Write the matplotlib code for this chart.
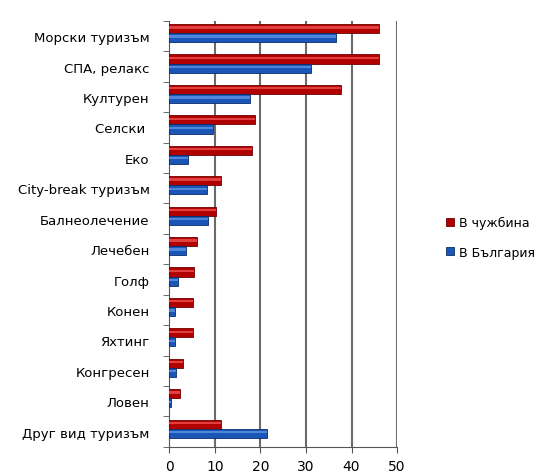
import matplotlib.pyplot as plt
import numpy as np

# категории и стойности (отчетени от графиката)
categories = ['Морски туризъм', 'СПА, релакс', 'Културен', 'Селски ', 'Еко',
              'City-break туризъм', 'Балнеолечение', 'Лечебен', 'Голф', 'Конен',
              'Яхтинг', 'Конгресен', 'Ловен', 'Друг вид туризъм']
abroad = [46, 46, 37.7, 18.8, 18.1, 11.3, 10.3, 6.2, 5.4, 5.3, 5.3, 3.1, 2.3, 11.4]
bulgaria = [36.5, 31, 17.7, 9.7, 4.2, 8.2, 8.6, 3.6, 2.0, 1.2, 1.2, 1.4, 0.5, 21.4]
xticks = [0, 10, 20, 30, 40, 50]

fig = plt.figure(figsize=(5.44, 4.77), dpi=100)
ax = fig.add_axes([0.311, 0.061, 0.419, 0.893])

y = np.arange(len(categories))
h = 0.3

ax.barh(y - h / 2 - 0.1, abroad, height=h, color='#B00000', edgecolor='#6E0000', lw=0.6,
        label='В чужбина', zorder=3)
ax.barh(y + h / 2 - 0.1, bulgaria, height=h, color='#1A56B8', edgecolor='#0B2C66', lw=0.6,
        label='В България', zorder=3)
# светла ивица - имитация на цилиндър
ax.barh(y - h / 2 - 0.1 - h * 0.12, abroad, height=h * 0.25, color='#E04040', lw=0, zorder=4)
ax.barh(y + h / 2 - 0.1 - h * 0.12, bulgaria, height=h * 0.25, color='#4F86DA', lw=0, zorder=4)

ax.set_xlim(0, 50)
ax.set_ylim(len(categories) - 0.5, -0.5)
ax.set_xticks(xticks)
ax.set_xticklabels([str(v) for v in xticks], fontsize=10)
ax.set_yticks(y)
ax.set_yticklabels(categories, fontsize=9.5)
ax.set_yticks(np.arange(len(categories) + 1) - 0.5, minor=True)
ax.tick_params(axis='y', which='major', length=0, pad=14)
ax.tick_params(axis='y', which='minor', length=4, color='#555555')
ax.tick_params(axis='x', length=4, color='#555555', pad=5)

for v in xticks[1:]:
    ax.axvline(v, color='#6B6B6B', lw=1.5, zorder=1)
for s in ['top', 'right']:
    ax.spines[s].set_visible(False)
ax.spines['left'].set_color('#555555')
ax.spines['bottom'].set_color('#555555')

handles, labels = ax.get_legend_handles_labels()
fig.legend(handles[:2], labels[:2], loc='center left', bbox_to_anchor=(0.8, 0.5),
           frameon=False, fontsize=9, handlelength=0.6, handleheight=0.6,
           handletextpad=0.4, labelspacing=1.3)

fig.savefig('out.png', dpi=100)
